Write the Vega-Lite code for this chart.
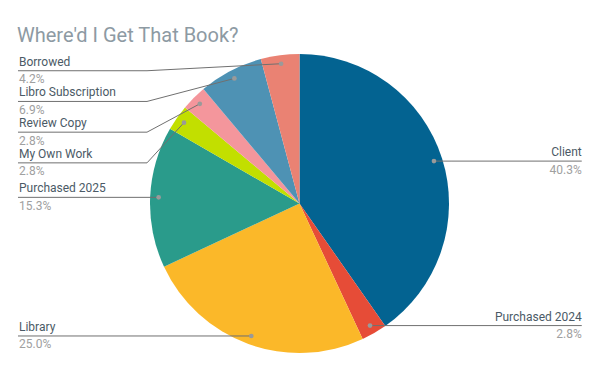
{
  "$schema": "https://vega.github.io/schema/vega-lite/v6.json",
  "autosize": "none",
  "padding": {"left": 0, "right": 0, "top": 45, "bottom": 0},
  "width": 600,
  "height": 326,
  "background": "white",
  "config": {"view": {"stroke": null}},
  "title": {
    "text": "Where'd I Get That Book?",
    "anchor": "start",
    "frame": "group",
    "dx": 17,
    "offset": -17,
    "baseline": "alphabetic",
    "font": "Roboto",
    "fontSize": 20,
    "fontWeight": "normal",
    "color": "#8d9aa3"
  },
  "data": {
    "values": [
      {"source": "Client", "count": 29, "order": 1},
      {"source": "Purchased 2024", "count": 2, "order": 2},
      {"source": "Library", "count": 18, "order": 3},
      {"source": "Purchased 2025", "count": 11, "order": 4},
      {"source": "My Own Work", "count": 2, "order": 5},
      {"source": "Review Copy", "count": 2, "order": 6},
      {"source": "Libro Subscription", "count": 5, "order": 7},
      {"source": "Borrowed", "count": 3, "order": 8}
    ]
  },
  "transform": [
    {"joinaggregate": [{"op": "sum", "field": "count", "as": "total"}]},
    {"window": [{"op": "sum", "field": "count", "as": "cum"}], "sort": [{"field": "order"}], "frame": [null, 0]},
    {"calculate": "2 * PI * (datum.cum - datum.count / 2) / datum.total", "as": "mid"},
    {"calculate": "0.943 * sin(datum.mid)", "as": "dx"},
    {"calculate": "0.943 * cos(datum.mid)", "as": "dy"},
    {"calculate": "datum.dx < 0 ? 'left' : 'right'", "as": "side"},
    {"calculate": "format(datum.count / datum.total, '.1%')", "as": "pct"},
    {"window": [{"op": "row_number", "as": "rn"}], "groupby": ["side"], "sort": [{"field": "dy", "order": "descending"}]},
    {"calculate": "min(datum.dy, 0.888) + (datum.rn - 1) * 0.2054", "as": "v"},
    {"window": [{"op": "min", "field": "v", "as": "vmin"}], "groupby": ["side"], "sort": [{"field": "dy", "order": "descending"}], "frame": [null, 0]},
    {"calculate": "datum.vmin - (datum.rn - 1) * 0.2054", "as": "ly"},
    {"calculate": "datum.side == 'left' ? -1.883 : 1.888", "as": "ex"},
    {"calculate": "datum.side == 'left' ? -1.02 : 1.02", "as": "bx"}
  ],
  "encoding": {
    "x": {"type": "quantitative", "scale": {"domain": [-2.0033, 2.01], "nice": false, "zero": false}, "axis": null},
    "y": {"type": "quantitative", "scale": {"domain": [-1.1204, 1.0602], "nice": false, "zero": false}, "axis": null}
  },
  "layer": [
    {
      "mark": {"type": "arc", "outerRadius": 149.5},
      "encoding": {
        "x": {"datum": 0, "type": "quantitative"},
        "y": {"datum": 0, "type": "quantitative"},
        "theta": {"field": "count", "type": "quantitative", "stack": true},
        "order": {"field": "order"},
        "color": {
          "field": "source",
          "type": "nominal",
          "legend": null,
          "scale": {
            "domain": ["Client", "Purchased 2024", "Library", "Purchased 2025", "My Own Work", "Review Copy", "Libro Subscription", "Borrowed"],
            "range": ["#036391", "#e64c37", "#fbb829", "#2a9b8b", "#c2df00", "#f4969c", "#4e92b4", "#ea8273"]
          }
        }
      }
    },
    {
      "mark": {"type": "rule", "color": "#707070", "strokeWidth": 1},
      "encoding": {
        "x": {"field": "ex", "type": "quantitative"},
        "x2": {"field": "bx"},
        "y": {"field": "ly", "type": "quantitative"}
      }
    },
    {
      "mark": {"type": "rule", "color": "#707070", "strokeWidth": 1},
      "encoding": {
        "x": {"field": "bx", "type": "quantitative"},
        "x2": {"field": "dx"},
        "y": {"field": "ly", "type": "quantitative"},
        "y2": {"field": "dy"}
      }
    },
    {
      "mark": {"type": "circle", "color": "#9a9a9a", "opacity": 1, "size": 22},
      "encoding": {
        "x": {"field": "dx", "type": "quantitative"},
        "y": {"field": "dy", "type": "quantitative"}
      }
    },
    {
      "transform": [{"filter": "datum.side == 'left'"}],
      "mark": {"type": "text", "align": "left", "baseline": "alphabetic", "dx": 1, "dy": -5, "font": "Roboto", "fontSize": 12, "letterSpacing": 0.2, "color": "#4b5a66"},
      "encoding": {
        "x": {"field": "ex", "type": "quantitative"},
        "y": {"field": "ly", "type": "quantitative"},
        "text": {"field": "source"}
      }
    },
    {
      "transform": [{"filter": "datum.side == 'left'"}],
      "mark": {"type": "text", "align": "left", "baseline": "alphabetic", "dx": 1, "dy": 12.5, "font": "Roboto", "fontSize": 12, "letterSpacing": 0.2, "color": "#a0a0a0"},
      "encoding": {
        "x": {"field": "ex", "type": "quantitative"},
        "y": {"field": "ly", "type": "quantitative"},
        "text": {"field": "pct"}
      }
    },
    {
      "transform": [{"filter": "datum.side == 'right'"}],
      "mark": {"type": "text", "align": "right", "baseline": "alphabetic", "dx": 0, "dy": -5, "font": "Roboto", "fontSize": 12, "letterSpacing": 0.2, "color": "#4b5a66"},
      "encoding": {
        "x": {"field": "ex", "type": "quantitative"},
        "y": {"field": "ly", "type": "quantitative"},
        "text": {"field": "source"}
      }
    },
    {
      "transform": [{"filter": "datum.side == 'right'"}],
      "mark": {"type": "text", "align": "right", "baseline": "alphabetic", "dx": 0, "dy": 12.5, "font": "Roboto", "fontSize": 12, "letterSpacing": 0.2, "color": "#a0a0a0"},
      "encoding": {
        "x": {"field": "ex", "type": "quantitative"},
        "y": {"field": "ly", "type": "quantitative"},
        "text": {"field": "pct"}
      }
    }
  ]
}
